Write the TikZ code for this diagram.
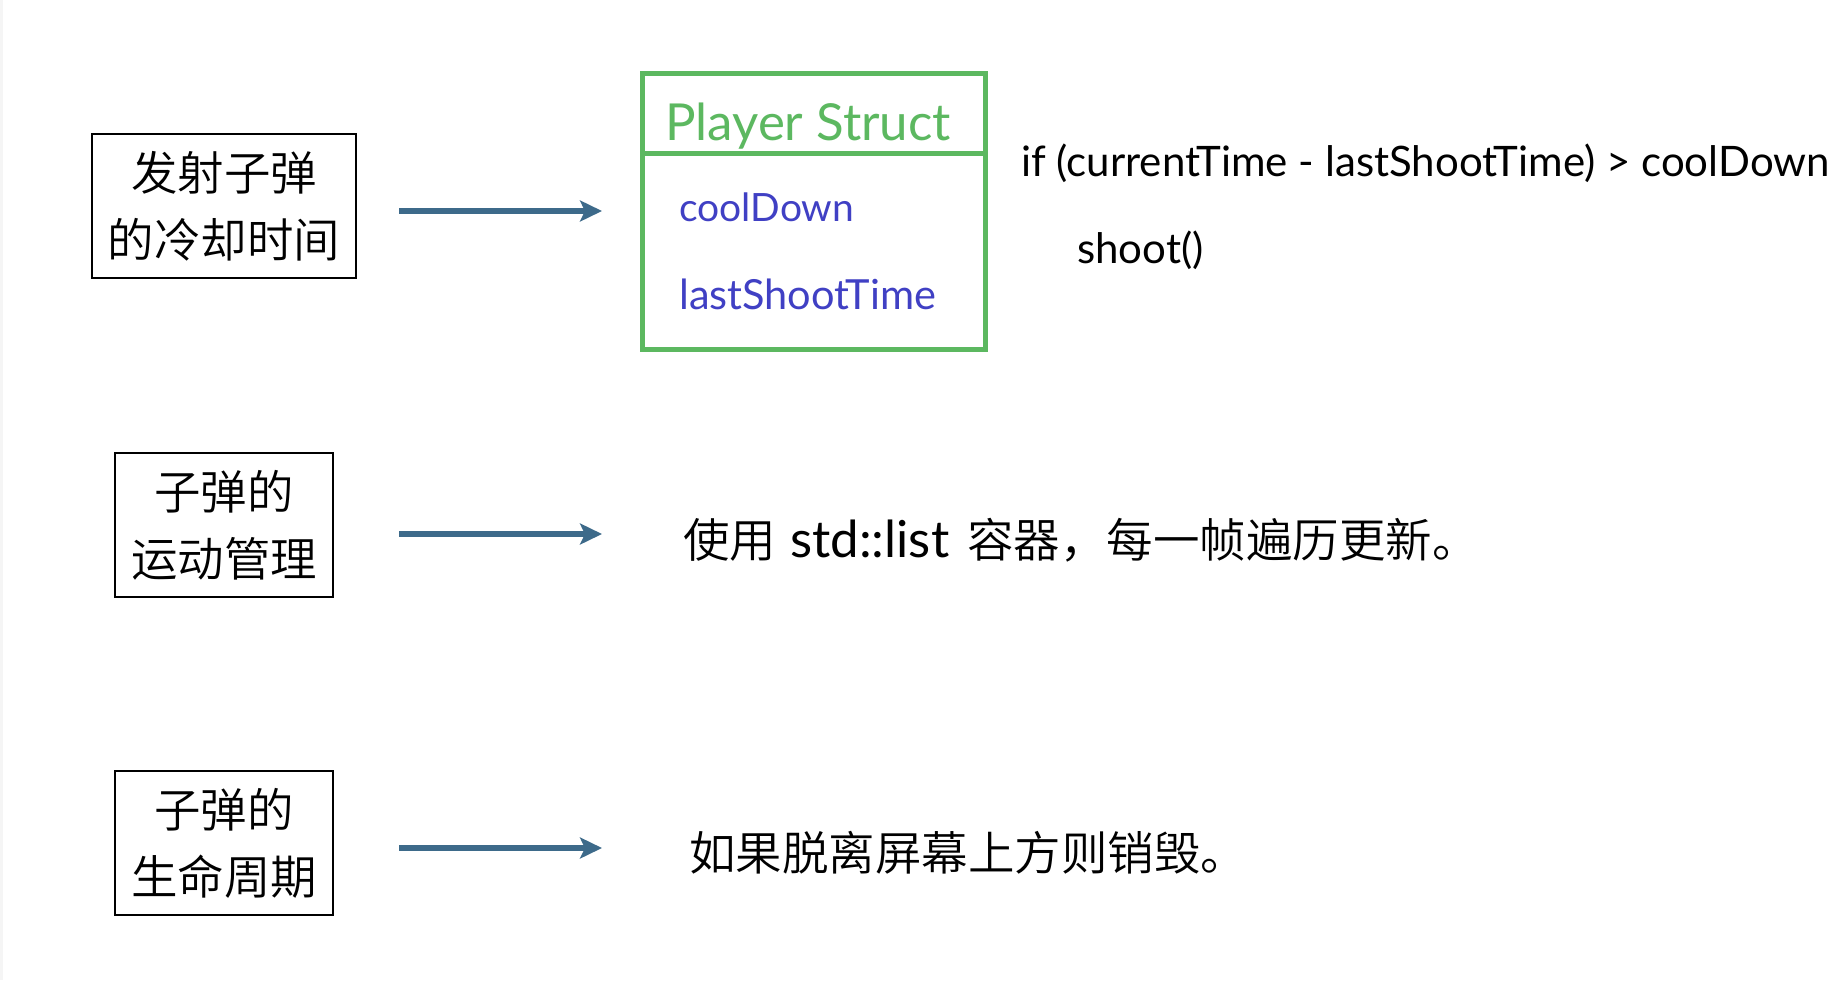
\documentclass[tikz,border=0pt]{standalone}
\usepackage{fontspec}
\setmainfont{Lato}
\newfontfamily\cjk{Noto Sans CJK SC}[UprightFont={* DemiLight}]
\usetikzlibrary{arrows.meta}
\definecolor{arrowblue}{HTML}{3D6A8A}
\definecolor{structgreen}{HTML}{5CB860}
\definecolor{fieldblue}{HTML}{4040C4}
\tikzset{
  topic/.style={draw=black,line width=1.4pt,align=center,inner sep=0pt,
    minimum height=144pt,font=\cjk\fontsize{46.5}{67}\selectfont},
  part/.style={draw=structgreen,line width=5pt,minimum width=343pt,inner sep=0pt},
  flow/.style={-{Stealth[length=22pt,width=21pt,inset=5pt]},line width=6.5pt,draw=arrowblue},
  field/.style={anchor=west,inner sep=0pt,text=fieldblue},
  code/.style={anchor=west,inner sep=0pt,font=\fontsize{42}{42}\selectfont},
  note/.style={anchor=west,inner sep=0pt,font=\cjk\fontsize{46.5}{46.5}\selectfont}
}
\begin{document}
\begin{tikzpicture}[x=1pt,y=-1pt]
  \useasboundingbox[fill=white] (0,0) rectangle (1836,980);
  \fill[black!4] (0,0) rectangle (3,980);
  % left column
  \node[topic,minimum width=264pt] (cool) at (224,206) {发射子弹\\的冷却时间};
  \node[topic,minimum width=218pt] (move) at (224,525) {子弹的\\运动管理};
  \node[topic,minimum width=218pt] (life) at (224,843) {子弹的\\生命周期};
  % arrows
  \coordinate (a1) at (399,211); \coordinate (b1) at (602,211);
  \coordinate (a2) at (399,534); \coordinate (b2) at (602,534);
  \coordinate (a3) at (399,848); \coordinate (b3) at (602,848);
  \draw[flow] (a1) -- (b1);
  \draw[flow] (a2) -- (b2);
  \draw[flow] (a3) -- (b3);
  % player struct
  \node[part,minimum height=80pt] (title) at (813.5,113) {};
  \node[part,minimum height=196pt] (body) at (813.5,251) {};
  \node[inner sep=0pt,text=structgreen,font=\fontsize{51}{51}\selectfont] (name) at (808,126) {Player Struct};
  \node[field,font=\fontsize{39}{39}\selectfont] (cd) at (679,207) {coolDown};
  \node[field,font=\fontsize{41.5}{41.5}\selectfont] (lst) at (679,294) {lastShootTime};
  \node[code] (cond) at (1021,163) {if (currentTime - lastShootTime) > coolDown};
  \node[code] (shoot) at (1077,250) {shoot()};
  % right column
  \node[note] (list) at (683,540) {使用\hspace{14pt}{\rmfamily\fontsize{51}{51}\selectfont std::list}\hspace{18pt}容器，每一帧遍历更新。};
  \node[note] (kill) at (689,853) {如果脱离屏幕上方则销毁。};
\end{tikzpicture}
\end{document}
